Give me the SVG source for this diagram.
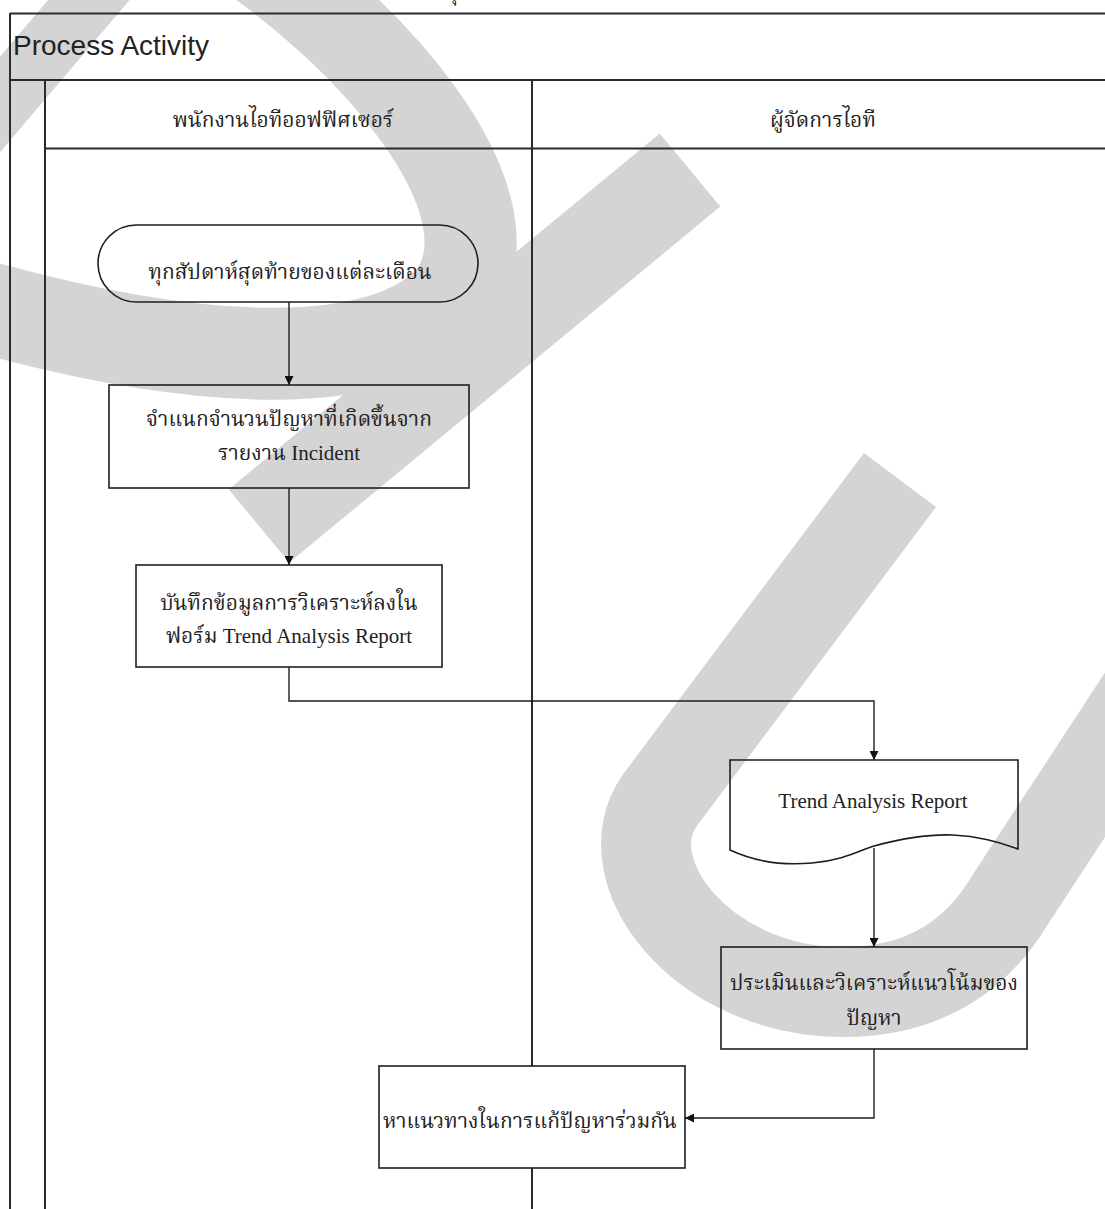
<svg xmlns="http://www.w3.org/2000/svg" width="1105" height="1209" viewBox="0 0 1105 1209">
  <defs>
    <style>
      .frame { stroke: #2a2a2a; stroke-width: 2; fill: none; }
      .shape { stroke: #1e1e1e; stroke-width: 1.6; fill: none; }
      .solid { fill: #fff; }
      .edge { stroke: #1e1e1e; stroke-width: 1.4; fill: none; }
      .th { font-family: "Liberation Serif", "Norasi", "Noto Serif Thai", "Noto Sans Thai", serif; font-size: 21px; fill: #222; text-anchor: middle; }
      .title { font-family: "Liberation Sans", Arial, sans-serif; font-size: 28px; fill: #222; }
      .wm { stroke: #d4d4d4; fill: none; stroke-linecap: butt; stroke-linejoin: round; }
    </style>
    <marker id="arrow" viewBox="0 0 10 10" refX="10" refY="5" markerWidth="10" markerHeight="9" markerUnits="userSpaceOnUse" orient="auto">
      <path d="M0,0 L10,5 L0,10 Z" fill="#111"/>
    </marker>
  </defs>

  <rect width="1105" height="1209" fill="#fff"/>

  <!-- background watermark strokes -->
  <g id="watermark">
    <path class="wm" stroke-width="62" d="M140,-60 L-90,210"/>
    <path class="wm" stroke-width="92" d="M230,-60 C 370,30 520,200 455,295 C 390,375 200,370 -40,300"/>
    <path class="wm" stroke-width="95" d="M690,170 L259,526"/>
    <path class="wm" stroke-width="90" d="M900,480 L660,800 C 610,870 700,990 840,992 C 930,993 980,950 1010,900 L1180,640"/>
  </g>

  <!-- pool and swimlane frame -->
  <g id="pool">
    <line class="frame" x1="10" y1="13.5" x2="1105" y2="13.5"/>
    <line class="frame" x1="10" y1="13" x2="10" y2="1209"/>
    <line class="frame" x1="10" y1="80" x2="1105" y2="80"/>
    <line class="frame" x1="45" y1="80" x2="45" y2="1209"/>
    <line class="frame" x1="45" y1="148.5" x2="1105" y2="148.5"/>
    <line class="frame" x1="532" y1="80" x2="532" y2="1209"/>
    <text class="title" x="13" y="55">Process Activity</text>
    <text class="th" x="458" y="-1" font-size="24">ุ</text>
  </g>

  <g id="lane-officer">
    <text class="th" x="283" y="127">พนักงานไอทีออฟฟิศเซอร์</text>
  </g>
  <g id="lane-manager">
    <text class="th" x="823" y="127">ผู้จัดการไอที</text>
  </g>

  <!-- connectors -->
  <g id="connectors">
    <path class="edge" d="M289,302 V385" marker-end="url(#arrow)"/>
    <path class="edge" d="M289,488 V565" marker-end="url(#arrow)"/>
    <path class="edge" d="M289,667 V701 H874 V760" marker-end="url(#arrow)"/>
    <path class="edge" d="M874,848 V947" marker-end="url(#arrow)"/>
    <path class="edge" d="M874,1049 V1118 H685" marker-end="url(#arrow)"/>
  </g>

  <!-- nodes -->
  <g id="start">
    <rect class="shape" x="98" y="225" width="380" height="77" rx="38.5" ry="38.5"/>
    <text class="th" x="290" y="279">ทุกสัปดาห์สุดท้ายของแต่ละเดือน</text>
  </g>

  <g id="classify">
    <rect class="shape" x="109" y="385" width="360" height="103"/>
    <text class="th" x="289" y="426">จำแนกจำนวนปัญหาที่เกิดขึ้นจาก</text>
    <text class="th" x="289" y="460">รายงาน Incident</text>
  </g>

  <g id="record">
    <rect class="shape" x="136" y="565" width="306" height="102"/>
    <text class="th" x="289" y="610">บันทึกข้อมูลการวิเคราะห์ลงใน</text>
    <text class="th" x="289" y="643">ฟอร์ม Trend Analysis Report</text>
  </g>

  <g id="report-doc">
    <path class="shape" d="M730,850 V760 H1018 V849 C 1000,843 980,836 953,835 C 925,834 900,839 874,846 C 860,850 845,860 812,863 C 790,865 760,864 730,850 Z"/>
    <text class="th" x="873" y="808">Trend Analysis Report</text>
  </g>

  <g id="evaluate">
    <rect class="shape" x="721" y="947" width="306" height="102"/>
    <text class="th" x="874" y="990">ประเมินและวิเคราะห์แนวโน้มของ</text>
    <text class="th" x="874" y="1025">ปัญหา</text>
  </g>

  <g id="solve">
    <rect class="shape solid" x="379" y="1066" width="306" height="102"/>
    <text class="th" x="530" y="1128">หาแนวทางในการแก้ปัญหาร่วมกัน</text>
  </g>
</svg>
